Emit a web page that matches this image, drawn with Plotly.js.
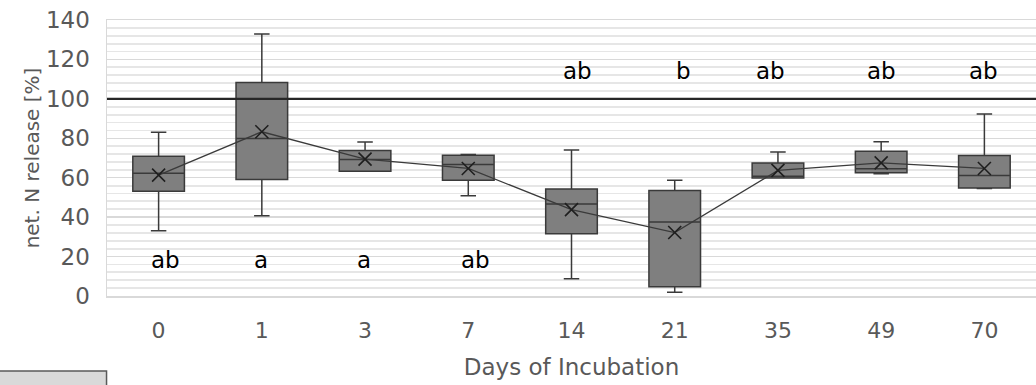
<!DOCTYPE html>
<html>
<head>
<meta charset="utf-8">
<script src="https://cdn.plot.ly/plotly-3.0.1.min.js"></script>
<style>
  html, body { margin: 0; padding: 0; background: #ffffff; }
  #chart { width: 1036px; height: 385px; }
</style>
</head>
<body>
<div id="chart"></div>
<script>
// ---- data ----
const days        = ['0', '1', '3', '7', '14', '21', '35', '49', '70'];
const lowerWhisk  = [33.1, 40.7, 63.3, 50.9, 8.7, 1.9, 59.9, 62.0, 54.5];
const q1Values    = [53.1, 59.1, 63.3, 58.7, 31.6, 4.7, 59.9, 62.5, 54.8];
const medianVals  = [62.3, 79.9, 69.2, 66.7, 46.7, 37.5, 60.8, 64.5, 61.1];
const q3Values    = [70.9, 108.3, 73.8, 71.4, 54.3, 53.5, 67.5, 73.4, 71.3];
const upperWhisk  = [83.1, 132.9, 78.1, 71.8, 74.0, 58.7, 73.0, 78.2, 92.3];
const meanValues  = [61.3, 83.3, 69.4, 64.7, 43.8, 32.2, 63.7, 67.5, 64.7];
const letters     = ['ab', 'a', 'a', 'ab', 'ab', 'b', 'ab', 'ab', 'ab'];
const letterLevel = [18.3, 18.3, 18.3, 18.3, 113.9, 113.9, 113.9, 113.9, 113.9];
const referenceLine = 100;

// ---- layout-only offsets for the letter labels (pixels) ----
const letterShift = [7, -1, -1, 7, 6, 9, -7, 0, -1];

const boxTrace = {
  type: 'box',
  x: days,
  q1: q1Values,
  median: medianVals,
  q3: q3Values,
  lowerfence: lowerWhisk,
  upperfence: upperWhisk,
  boxpoints: false,
  width: 0.5,
  whiskerwidth: 0.3,
  fillcolor: '#7f7f7f',
  line: { color: '#3a3a3a', width: 1.5 },
  hoverinfo: 'skip',
  showlegend: false
};

const meanTrace = {
  type: 'scatter',
  mode: 'lines+markers',
  x: days,
  y: meanValues,
  line: { color: '#3a3a3a', width: 1.3 },
  marker: { symbol: 'x-thin', size: 13, line: { color: '#1f1f1f', width: 1.6 } },
  hoverinfo: 'skip',
  showlegend: false
};

// category index positions for the annotations
const annotations = letters.map((t, i) => ({
  x: i, y: letterLevel[i], xref: 'x', yref: 'y',
  text: t, showarrow: false, xshift: letterShift[i],
  xanchor: 'center', yanchor: 'middle',
  font: { family: 'DejaVu Sans, sans-serif', size: 23, color: '#000000' }
}));

const axisFont = 'DejaVu Sans, sans-serif';

const layout = {
  width: 1036, height: 385,
  margin: { l: 107, r: 0, t: 20, b: 89 },
  paper_bgcolor: '#ffffff', plot_bgcolor: '#ffffff',
  font: { family: axisFont, color: '#595959' },
  xaxis: {
    type: 'category',
    range: [-0.5, 8.5],
    showgrid: false, zeroline: false,
    showline: true, linecolor: '#d9d9d9', linewidth: 1.5, mirror: true,
    ticks: '',
    ticklabelstandoff: 14,
    tickfont: { family: axisFont, size: 22, color: '#595959' },
    title: { text: 'Days of Incubation', standoff: 17,
             font: { family: axisFont, size: 23, color: '#595959' } }
  },
  yaxis: {
    range: [0, 140],
    dtick: 20, tick0: 0,
    showgrid: true, gridcolor: '#d9d9d9', gridwidth: 1.5,
    minor: { dtick: 4, showgrid: true, gridcolor: '#e6e6e6', gridwidth: 1.8, ticks: '' },
    zeroline: false,
    showline: true, linecolor: '#d9d9d9', linewidth: 1.5, mirror: true,
    ticks: '',
    ticklabelstandoff: 11,
    tickfont: { family: axisFont, size: 23, color: '#595959' },
    title: { text: 'net. N release [%]', standoff: 1,
             font: { family: axisFont, size: 20, color: '#595959' } }
  },
  shapes: [
    { type: 'line', xref: 'paper', yref: 'y', x0: 0, x1: 1, y0: referenceLine, y1: referenceLine,
      line: { color: '#262626', width: 2.2 }, layer: 'above' },
    { type: 'rect', xref: 'paper', yref: 'paper', x0: -0.125, x1: -0.0005, y0: -0.272, y1: -0.36,
      fillcolor: '#d9d9d9', line: { color: '#595959', width: 1.5 } }
  ],
  annotations: annotations
};

Plotly.newPlot('chart', [boxTrace, meanTrace], layout, { displayModeBar: false, staticPlot: true });
</script>
</body>
</html>
